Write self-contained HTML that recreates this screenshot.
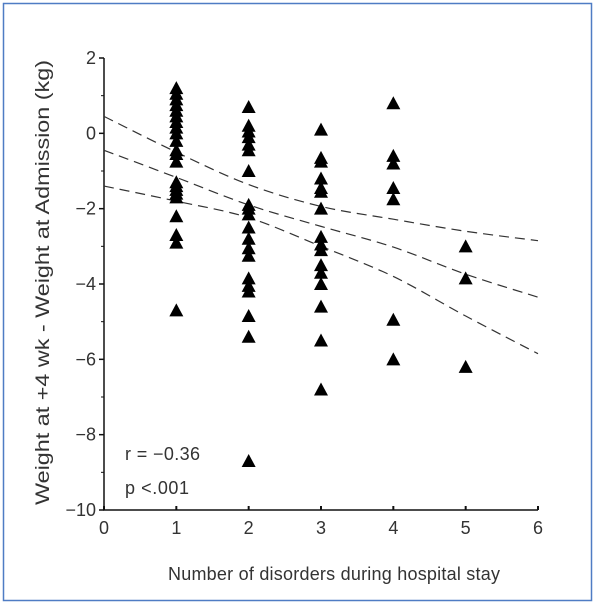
<!DOCTYPE html>
<html><head><meta charset="utf-8"><style>
html,body{margin:0;padding:0;background:#fff}
svg{display:block}
text{font-family:"Liberation Sans",sans-serif;fill:#333}
</style></head><body>
<svg width="600" height="605" viewBox="0 0 600 605">
<rect x="3.5" y="3.5" width="588" height="597" fill="#fff" stroke="#4f7cc4" stroke-width="1.5"/>
<g id="plot"></g>
<text x="125" y="460" font-size="18" textLength="75">r = −0.36</text>
<text x="125" y="494" font-size="18" textLength="64">p &lt;.001</text>
<text x="168" y="580" font-size="18" textLength="332">Number of disorders during hospital stay</text>
<text transform="translate(49,505) rotate(-90)" font-size="19" textLength="445" lengthAdjust="spacingAndGlyphs">Weight at +4 wk - Weight at Admission (kg)</text>
</svg>
<script>
const xTicks=[0,1,2,3,4,5,6];
const yTicks=[2,0,-2,-4,-6,-8,-10];
const col1=[1.2,1.05,0.9,0.75,0.6,0.45,0.3,0.15,0.0,-0.2,-0.45,-0.55,-0.75,-1.3,-1.4,-1.5,-1.6,-1.7,-2.2,-2.7,-2.9,-4.7];
const col2=[0.7,0.2,0.05,-0.1,-0.3,-0.45,-1.0,-1.9,-2.0,-2.15,-2.5,-2.8,-3.05,-3.25,-3.85,-4.05,-4.2,-4.85,-5.4,-8.7];
const col3=[0.1,-0.65,-0.75,-1.2,-1.45,-1.55,-2.0,-2.75,-2.95,-3.1,-3.5,-3.7,-4.0,-4.6,-5.5,-6.8];
const col4=[0.8,-0.6,-0.8,-1.45,-1.75,-4.95,-6.0];
const col5=[-3.0,-3.85,-6.2];
const fitX=[0,1,2,3,4,5,6];
const fitMid=[-0.45,-1.17,-1.9,-2.47,-3.02,-3.74,-4.35];
const fitUp=[0.45,-0.5,-1.36,-1.94,-2.28,-2.6,-2.85];
const fitLo=[-1.4,-1.8,-2.24,-3.0,-3.8,-4.85,-5.85];
const NS='http://www.w3.org/2000/svg';
const g=document.getElementById('plot');
const X=v=>104+v*(538-104)/6;
const Y=v=>58+(2-v)*(510-58)/12;
function mk(t,a){const e=document.createElementNS(NS,t);for(const k in a)e.setAttribute(k,a[k]);g.appendChild(e);return e;}
let ax=mk('path',{d:`M${X(0)},${Y(2)}V${Y(-10)}H${X(6)}`,fill:'none',stroke:'#111','stroke-width':1.5});


yTicks.forEach(v=>{
 let t=mk('line',{x1:X(0)-5,x2:X(0),y1:Y(v),y2:Y(v),stroke:'#111','stroke-width':1.5});
 
 
 if(v>-10){let m=mk('line',{x1:X(0)-3,x2:X(0),y1:Y(v-1),y2:Y(v-1),stroke:'#111','stroke-width':1});
 
 }
 let l=mk('text',{x:X(0)-8,y:Y(v)+6,'text-anchor':'end','font-size':18});
 l.textContent=v<0?'−'+(-v):String(v);
 
 
});
xTicks.forEach(v=>{
 let t=mk('line',{x1:X(v),x2:X(v),y1:Y(-10),y2:Y(-10)-4,stroke:'#111','stroke-width':2});
 
 
 let l=mk('text',{x:X(v),y:Y(-10)+24,'text-anchor':'middle','font-size':18});
 l.textContent=String(v);
 
 
});
function curve(arr){let d='';const p=fitX.map((x,i)=>[X(x),Y(arr[i])]);
 d='M'+p[0][0]+','+p[0][1];
 for(let i=0;i<p.length-1;i++){const p0=p[Math.max(0,i-1)],p1=p[i],p2=p[i+1],p3=p[Math.min(p.length-1,i+2)];
  d+=`C${p1[0]+(p2[0]-p0[0])/6},${p1[1]+(p2[1]-p0[1])/6} ${p2[0]-(p3[0]-p1[0])/6},${p2[1]-(p3[1]-p1[1])/6} ${p2[0]},${p2[1]}`;}
 return d;}
[['fit-line',fitMid],['ci-upper',fitUp],['ci-lower',fitLo]].forEach(([n,a])=>{
 let p=mk('path',{d:curve(a),fill:'none',stroke:'#333','stroke-width':1.2,'stroke-dasharray':'10,6'});
 
 
});
[[1,col1],[2,col2],[3,col3],[4,col4],[5,col5]].forEach(([x,c])=>c.forEach(v=>{
 const cx=X(x),cy=Y(v);
 let t=mk('polygon',{points:`${cx},${cy-7} ${cx-7},${cy+6} ${cx+7},${cy+6}`,fill:'#000'});
 
 
}));
</script>
</body></html>
